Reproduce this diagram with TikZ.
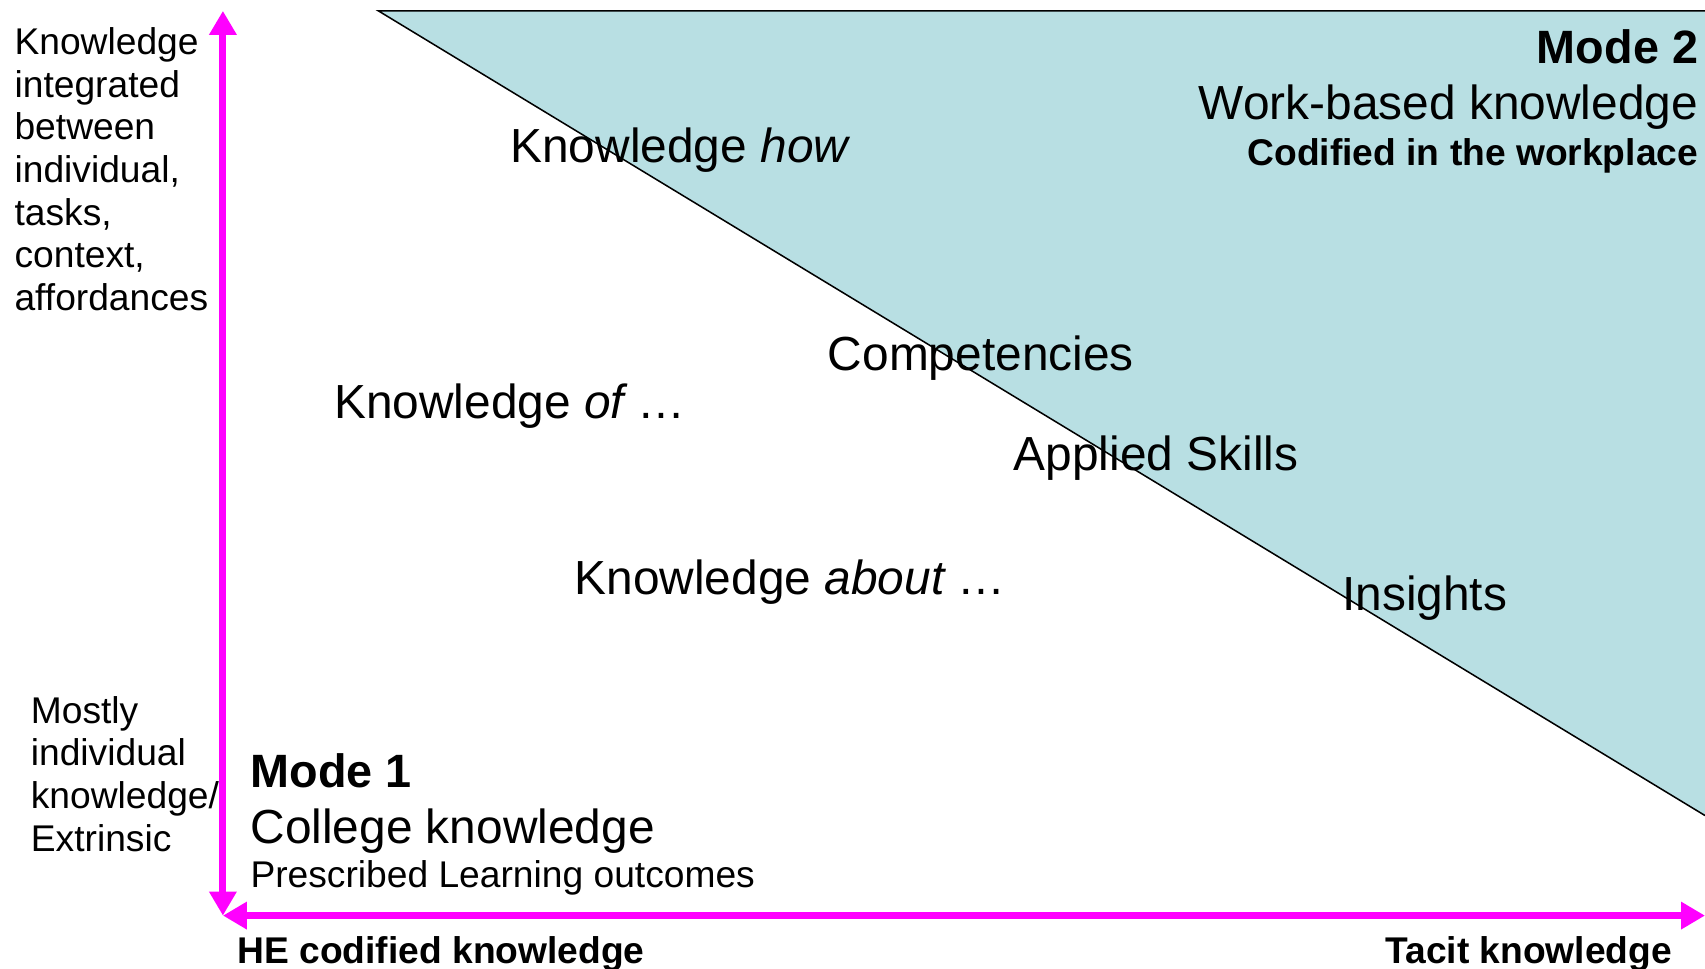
\documentclass[tikz,border=0pt]{standalone}
\usepackage{fontspec}
\setmainfont{Liberation Sans}
\usetikzlibrary{arrows.meta}

\definecolor{tealfill}{RGB}{184,223,227}
\definecolor{axismag}{RGB}{255,0,255}

\begin{document}
\begin{tikzpicture}[x=0.5pt,y=-0.5pt,
    axisline/.style={draw=axismag,line width=3.2pt,
        {Triangle[width=12pt,length=11pt]}-{Triangle[width=12pt,length=11pt]}},
    sidetext/.style={font=\fontsize{17.1}{19.6}\selectfont,align=left,
        inner sep=0pt,anchor=north west},
    item/.style={font=\fontsize{22}{26}\selectfont,inner sep=0pt,anchor=base west},
    small/.style={font=\fontsize{17.1}{20}\selectfont,inner sep=0pt},
    smallbold/.style={font=\fontsize{17.1}{20}\selectfont\bfseries,inner sep=0pt},
    title/.style={font=\fontsize{21.5}{26}\selectfont\bfseries,inner sep=0pt}]
    \useasboundingbox (0,0) rectangle (1568,891);

    % -- Mode 2 (Dreieck) --
    \fill[tealfill] (348,10) -- (1568,10) -- (1568,750) -- cycle;
    \draw[line width=0.7pt] (1568,750) -- (348,10) -- (1568,10);

    % -- Achsen --
    \coordinate (origin) at (205,842);
    \coordinate (ytop) at (205,10);
    \coordinate (xend) at (1568,842);
    \draw[axisline] (origin) -- (ytop);
    \draw[axisline] (origin) -- (xend);

    % -- Achsenbeschriftung links --
    \node[sidetext] (integ) at (13,25)
        {Knowledge\\integrated\\between\\individual,\\tasks,\\context,\\affordances};
    \node[sidetext] (indiv) at (28,640)
        {Mostly\\individual\\knowledge/\\Extrinsic};

    % -- Achsenbeschriftung unten --
    \node[smallbold,anchor=base west] (hecod) at (218,886) {HE codified knowledge};
    \node[smallbold,anchor=base east] (tacit) at (1538,886) {Tacit knowledge};

    % -- Mode 1 --
    \node[title,anchor=base west] (modeone) at (230,724) {Mode 1};
    \node[item] (college) at (230,776) {College knowledge};
    \node[small,anchor=base west] (prescr) at (230,816) {Prescribed Learning outcomes};

    % -- Mode 2 --
    \node[title,anchor=base east] (modetwo) at (1562,58) {Mode 2};
    \node[item,anchor=base east] (workbased) at (1562,110) {Work-based knowledge};
    \node[smallbold,anchor=base east] (codified) at (1562,152) {Codified in the workplace};

    % -- Wissensformen --
    \node[item] (khow) at (469,149) {Knowledge {\itshape how}};
    \node[item] (compet) at (761,341) {Competencies};
    \node[item] (kof) at (307,385) {Knowledge {\itshape of} …};
    \node[item] (applied) at (932,433) {Applied Skills};
    \node[item] (kabout) at (528,547) {Knowledge {\itshape about} …};
    \node[item] (insights) at (1234,561) {Insights};
\end{tikzpicture}
\end{document}
